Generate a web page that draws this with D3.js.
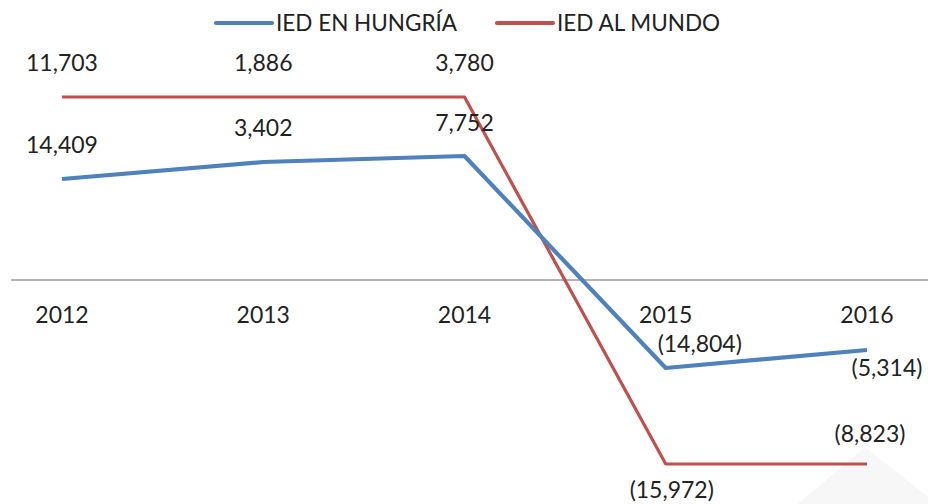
<!DOCTYPE html>
<html>
<head>
<meta charset="utf-8">
<script src="https://cdn.jsdelivr.net/npm/d3@7"></script>
<style>
  html, body { margin: 0; padding: 0; background: #fff; }
  svg { display: block; font-family: Lato, "Open Sans", sans-serif; }
</style>
</head>
<body>
<svg id="chart" width="928" height="504"></svg>
<script>
// ---- data ----
const years = ["2012", "2013", "2014", "2015", "2016"];
// plotted levels as drawn in the picture (chart units, zero = axis)
const hungriaLevels = [101, 118, 124, -88, -70];
const mundoLevels = [183, 183, 183, -184, -184];
// data labels as printed on the chart
const hungriaLabels = ["14,409", "3,402", "7,752", "(14,804)", "(5,314)"];
const mundoLabels = ["11,703", "1,886", "3,780", "(15,972)", "(8,823)"];
const seriesNames = ["IED EN HUNGRÍA", "IED AL MUNDO"];
const seriesColors = ["#4f81bd", "#c0504d"];

// ---- layout ----
const svg = d3.select("#chart");
const W = 928, H = 504;

const x = d3.scalePoint().domain(years).range([62, 867]);
const y = d3.scaleLinear().domain([-200, 200]).range([480, 80]);

// faint watermark shape in bottom-right corner
svg.append("polygon")
  .attr("points", "865,447 798,504 928,504 928,497")
  .attr("fill", "#f7f7f7");

// zero axis line
svg.append("line")
  .attr("x1", 11).attr("x2", W)
  .attr("y1", y(0)).attr("y2", y(0))
  .attr("stroke", "#b3b3b3").attr("stroke-width", 2);

// category labels
svg.append("g").selectAll("text").data(years).join("text")
  .attr("x", d => x(d)).attr("y", y(0) + 43)
  .attr("text-anchor", "middle")
  .attr("font-size", 23).attr("fill", "#222")
  .text(d => d);

const line = d3.line().x((d, i) => x(years[i])).y(d => y(d));

svg.append("path").datum(mundoLevels)
  .attr("d", line).attr("fill", "none")
  .attr("stroke", seriesColors[1]).attr("stroke-width", 3.2)
  .attr("stroke-linejoin", "round");

svg.append("path").datum(hungriaLevels)
  .attr("d", line).attr("fill", "none")
  .attr("stroke", seriesColors[0]).attr("stroke-width", 4.2)
  .attr("stroke-linejoin", "round");

// data labels: offsets [dx, dy] (baseline) relative to point
const mundoOff = [[0, -26], [0, -26], [0, -26], [6, 34], [3, -22]];
const hungriaOff = [[0, -26], [0, -26], [0, -25], [34, -16], [20, 26]];

function labels(levels, texts, offs) {
  svg.append("g").selectAll("text").data(levels).join("text")
    .attr("x", (d, i) => x(years[i]) + offs[i][0])
    .attr("y", (d, i) => y(d) + offs[i][1])
    .attr("text-anchor", "middle")
    .attr("font-size", 23).attr("fill", "#222")
    .text((d, i) => texts[i]);
}
labels(mundoLevels, mundoLabels, mundoOff);
labels(hungriaLevels, hungriaLabels, hungriaOff);

// legend
const legend = svg.append("g");
const legendItems = [
  { name: seriesNames[0], color: seriesColors[0], x0: 216 },
  { name: seriesNames[1], color: seriesColors[1], x0: 497 }
];
legendItems.forEach(it => {
  legend.append("line")
    .attr("x1", it.x0).attr("x2", it.x0 + 56)
    .attr("y1", 23).attr("y2", 23)
    .attr("stroke", it.color).attr("stroke-width", 4.2)
    .attr("stroke-linecap", "round");
  legend.append("text")
    .attr("x", it.x0 + 60).attr("y", 31)
    .attr("font-size", 22.5).attr("fill", "#222")
    .text(it.name);
});
</script>
</body>
</html>
